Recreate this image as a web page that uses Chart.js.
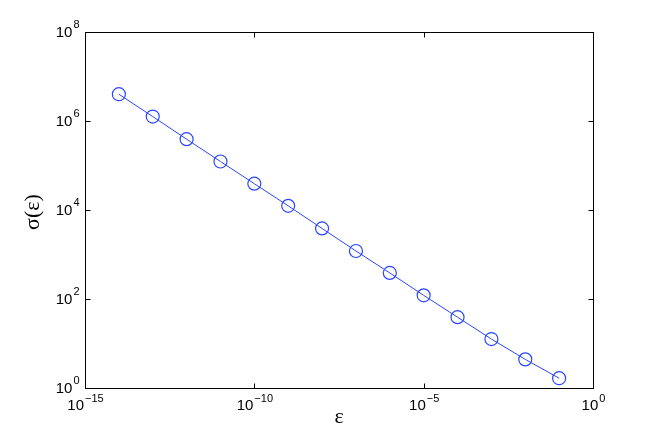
<!DOCTYPE html>
<html>
<head>
<meta charset="utf-8">
<script src="https://cdn.jsdelivr.net/npm/chart.js@4/dist/chart.umd.min.js"></script>
<style>
  html, body { margin: 0; padding: 0; background: #ffffff; }
  #wrap { width: 654px; height: 436px; }
</style>
</head>
<body>
<div id="wrap"><canvas id="c" width="654" height="436"></canvas></div>
<script>
// ---- data ----
const epsilonValues = [1e-14, 1e-13, 1e-12, 1e-11, 1e-10, 1e-9, 1e-8, 1e-7, 1e-6, 1e-5, 1e-4, 1e-3, 1e-2, 1e-1];
const sigmaValues   = [4.0e6, 1.26e6, 3.9e5, 1.23e5, 3.9e4, 1.24e4, 3.85e3, 1.2e3, 385, 121, 39, 12.6, 4.4, 1.66];
const xTickExponents = [-15, -10, -5, 0];
const yTickExponents = [0, 2, 4, 6, 8];
const xTitle = 'ε';
const yTitle = 'σ(ε)';

const lineColor = '#2a45ff';

function expText(e) {
  return (e < 0 ? '\u2212' + Math.abs(e) : String(e));
}

const axesPlugin = {
  id: 'matlabAxes',
  afterDraw(chart) {
    const ctx = chart.ctx;
    const a = chart.chartArea;
    const xs = chart.scales.x, ys = chart.scales.y;
    ctx.save();
    ctx.strokeStyle = '#000';
    ctx.lineWidth = 1;
    const L = Math.round(a.left) + 0.5, R = Math.round(a.right) + 0.5;
    const T = Math.round(a.top) + 0.5, B = Math.round(a.bottom) + 0.5;
    ctx.strokeRect(L, T, R - L, B - T);
    const tl = 5;
    ctx.beginPath();
    xTickExponents.forEach(e => {
      const px = Math.round(xs.getPixelForValue(Math.pow(10, e))) + 0.5;
      ctx.moveTo(px, B); ctx.lineTo(px, B - tl);
      ctx.moveTo(px, T); ctx.lineTo(px, T + tl);
    });
    yTickExponents.forEach(e => {
      const py = Math.round(ys.getPixelForValue(Math.pow(10, e))) + 0.5;
      ctx.moveTo(L, py); ctx.lineTo(L + tl, py);
      ctx.moveTo(R, py); ctx.lineTo(R - tl, py);
    });
    ctx.stroke();

    // tick labels: "10" with superscript exponent
    const baseFont = '15px "Liberation Sans", Arial, sans-serif';
    const expFont = '11px "Liberation Sans", Arial, sans-serif';
    ctx.fillStyle = '#000';
    ctx.textBaseline = 'middle';
    ctx.textAlign = 'left';
    xTickExponents.forEach(e => {
      const px = xs.getPixelForValue(Math.pow(10, e));
      ctx.font = baseFont; const wb = ctx.measureText('10').width;
      ctx.font = expFont; const we = ctx.measureText(expText(e)).width;
      const start = px - (wb + we) / 2;
      const cy = a.bottom + 18;
      ctx.font = baseFont; ctx.fillText('10', start, cy);
      ctx.font = expFont; ctx.fillText(expText(e), start + wb + 1, cy - 7.5);
    });
    yTickExponents.forEach(e => {
      const py = ys.getPixelForValue(Math.pow(10, e));
      ctx.font = baseFont; const wb = ctx.measureText('10').width;
      ctx.font = expFont; const we = ctx.measureText(expText(e)).width;
      const right = a.left - 5.5;
      const start = right - (wb + we + 1);
      const cy = py + 1;
      ctx.font = baseFont; ctx.fillText('10', start, cy);
      ctx.font = expFont; ctx.fillText(expText(e), start + wb + 1, cy - 8.5);
    });

    // axis titles
    ctx.font = '22px "Liberation Serif", "DejaVu Serif", serif';
    ctx.textAlign = 'center';
    ctx.textBaseline = 'middle';
    ctx.fillText(xTitle, (a.left + a.right) / 2, a.bottom + 29);
    ctx.save();
    ctx.translate(33, (a.top + a.bottom) / 2 + 2);
    ctx.rotate(-Math.PI / 2);
    ctx.fillText(yTitle, 0, 0);
    ctx.restore();
    ctx.restore();
  }
};

new Chart(document.getElementById('c'), {
  type: 'line',
  data: {
    datasets: [{
      data: epsilonValues.map((x, i) => ({ x: x, y: sigmaValues[i] })),
      borderColor: lineColor,
      borderWidth: 1,
      pointStyle: 'circle',
      pointRadius: 6.5,
      pointBorderWidth: 1.2,
      pointBorderColor: lineColor,
      pointBackgroundColor: 'rgba(0,0,0,0)',
      tension: 0,
      fill: false,
      clip: false
    }]
  },
  options: {
    responsive: false,
    animation: false,
    devicePixelRatio: 1,
    layout: { padding: { left: 85, top: 32, right: 61, bottom: 48 } },
    plugins: { legend: { display: false }, tooltip: { enabled: false } },
    scales: {
      x: {
        type: 'logarithmic', min: 1e-15, max: 1,
        ticks: { display: false },
        grid: { display: false },
        border: { display: false },
        afterFit(scale) { scale.height = 0; }
      },
      y: {
        type: 'logarithmic', min: 1, max: 1e8,
        ticks: { display: false },
        grid: { display: false },
        border: { display: false },
        afterFit(scale) { scale.width = 0; }
      }
    }
  },
  plugins: [axesPlugin]
});
</script>
</body>
</html>
